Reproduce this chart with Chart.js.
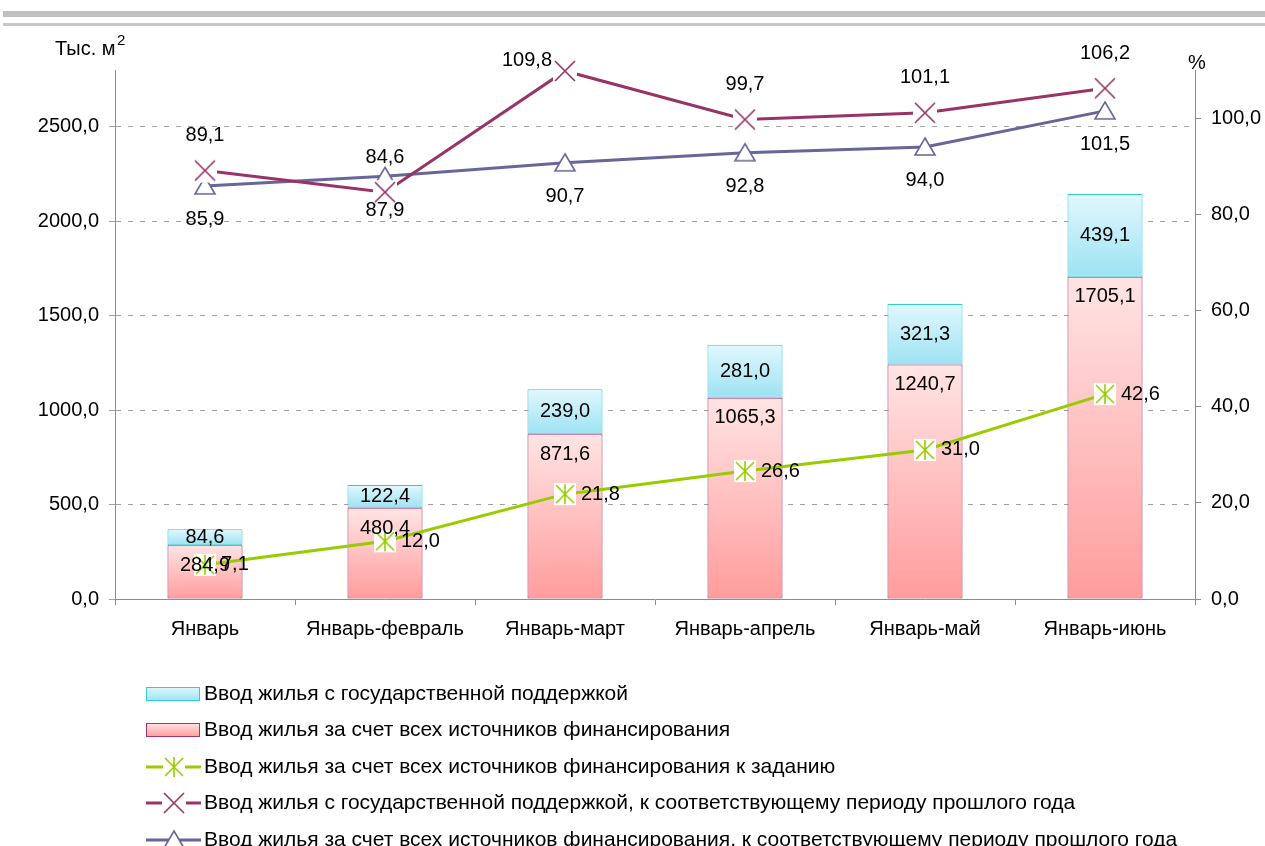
<!DOCTYPE html>
<html>
<head>
<meta charset="utf-8">
<script src="https://cdn.jsdelivr.net/npm/chart.js@4/dist/chart.umd.min.js"></script>
<style>
  html, body { margin: 0; padding: 0; background: #fff; }
  #wrap { width: 1265px; height: 846px; position: relative; }
</style>
</head>
<body>
<div id="wrap"><canvas id="housingChart"></canvas></div>
<script>
const periods = ['Январь', 'Январь-февраль', 'Январь-март', 'Январь-апрель', 'Январь-май', 'Январь-июнь'];
const allSources = [284.9, 480.4, 871.6, 1065.3, 1240.7, 1705.1];
const stateSupport = [84.6, 122.4, 239.0, 281.0, 321.3, 439.1];
const planPercent = [7.1, 12.0, 21.8, 26.6, 31.0, 42.6];
const supportYoY = [89.1, 84.6, 109.8, 99.7, 101.1, 106.2];
const allSourcesYoY = [85.9, 87.9, 90.7, 92.8, 94.0, 101.5];
const leftTicks = [0, 500, 1000, 1500, 2000, 2500];
const rightTicks = [0, 20, 40, 60, 80, 100];

const seriesNames = [
    'Ввод жилья с государственной поддержкой',
    'Ввод жилья за счет всех источников финансирования',
    'Ввод жилья за счет всех источников финансирования к заданию',
    'Ввод жилья с государственной поддержкой, к соответствующему периоду прошлого года',
    'Ввод жилья за счет всех источников финансирования, к соответствующему периоду прошлого года'
];

const FONT = '"Liberation Sans", Arial, sans-serif';
const GREEN = '#99cc00';
const MAROON = '#993366';
const PURPLE = '#666699';

function fmt(v) {
    return v.toFixed(1).replace('.', ',');
}

// marker images (white background like in Excel)
function makeMarker(kind) {
    const c = document.createElement('canvas');
    c.width = 26;
    c.height = 26;
    const g = c.getContext('2d');
    g.lineWidth = 1.6;
    if (kind === 'star') {
        g.fillStyle = '#fff';
        g.fillRect(2, 2, 22, 22);
        g.strokeStyle = GREEN;
        g.beginPath();
        g.moveTo(4, 4); g.lineTo(22, 22);
        g.moveTo(22, 4); g.lineTo(4, 22);
        g.moveTo(13, 3); g.lineTo(13, 23);
        g.stroke();
    } else if (kind === 'cross') {
        g.fillStyle = '#fff';
        g.fillRect(1, 1, 24, 24);
        g.strokeStyle = MAROON;
        g.beginPath();
        g.moveTo(3, 3); g.lineTo(23, 23);
        g.moveTo(23, 3); g.lineTo(3, 23);
        g.stroke();
    } else {
        g.fillStyle = '#fff';
        g.strokeStyle = PURPLE;
        g.beginPath();
        g.moveTo(13, 4); g.lineTo(23, 21); g.lineTo(3, 21);
        g.closePath();
        g.fill();
        g.stroke();
    }
    return c;
}
const starImg = makeMarker('star');
const crossImg = makeMarker('cross');
const triImg = makeMarker('tri');

function barGradient(context, lowVals, highVals, topColor, bottomColor) {
    const chart = context.chart;
    if (!chart.chartArea) return topColor;
    const y = chart.scales.y;
    const i = context.dataIndex;
    const lo = lowVals ? lowVals[i] : 0;
    const hi = lo + highVals[i];
    const g = chart.ctx.createLinearGradient(0, y.getPixelForValue(hi), 0, y.getPixelForValue(lo));
    g.addColorStop(0, topColor);
    g.addColorStop(1, bottomColor);
    return g;
}

const decorPlugin = {
    id: 'decor',
    beforeDraw(chart) {
        const c = chart.ctx;
        c.save();
        c.fillStyle = '#c0c0c0';
        c.fillRect(3, 11, 1262, 6);
        c.fillStyle = '#c8c8c8';
        c.fillRect(3, 23, 1262, 3);
        c.restore();
    },
    afterDraw(chart) {
        const c = chart.ctx;
        c.save();
        c.fillStyle = '#000';
        c.textBaseline = 'alphabetic';
        c.font = '20px ' + FONT;
        c.fillText('Тыс. м', 55, 55);
        c.font = '15px ' + FONT;
        c.fillText('2', 117, 45);
        c.font = '20px ' + FONT;
        c.fillText('%', 1188, 69);

        // legend
        const rows = [694, 730, 767, 803, 840];
        const x0 = 146, x1 = 200;
        rows.forEach((ry, k) => {
            if (k < 2) {
                const top = k === 0 ? '#dff7fd' : '#ffe4e4';
                const bot = k === 0 ? '#9ee3f3' : '#ff9c9c';
                const gr = c.createLinearGradient(0, ry - 7, 0, ry + 7);
                gr.addColorStop(0, top);
                gr.addColorStop(1, bot);
                c.fillStyle = gr;
                c.fillRect(x0, ry - 7, x1 - x0, 14);
                c.strokeStyle = k === 0 ? '#33cccc' : '#a8346c';
                c.lineWidth = 1;
                c.strokeRect(x0 + 0.5, ry - 6.5, x1 - x0 - 1, 13);
            } else {
                const col = [GREEN, MAROON, PURPLE][k - 2];
                const img = [starImg, crossImg, triImg][k - 2];
                c.strokeStyle = col;
                c.lineWidth = 3;
                c.beginPath();
                c.moveTo(x0, ry);
                c.lineTo(x1 + 1, ry);
                c.stroke();
                c.drawImage(img, 174 - 13, ry - 13);
            }
            c.fillStyle = '#000';
            c.font = '21px ' + FONT;
            c.textBaseline = 'middle';
            c.textAlign = 'left';
            c.fillText(seriesNames[k], 204, ry);
        });
        c.restore();
    }
};

const labelPlugin = {
    id: 'valueLabels',
    afterDatasetsDraw(chart) {
        const c = chart.ctx;
        c.save();
        c.font = '20px ' + FONT;
        c.fillStyle = '#000';
        c.textBaseline = 'middle';
        // bars
        chart.getDatasetMeta(0).data.forEach((el, i) => {
            c.textAlign = 'center';
            c.fillText(fmt(allSources[i]), el.x, el.y + 20);
        });
        chart.getDatasetMeta(1).data.forEach((el, i) => {
            c.textAlign = 'center';
            c.fillText(fmt(stateSupport[i]), el.x, (el.y + el.base) / 2);
        });
        // plan line
        chart.getDatasetMeta(2).data.forEach((el, i) => {
            c.textAlign = 'left';
            c.fillText(fmt(planPercent[i]), el.x + 16, el.y);
        });
        // support yoy, above
        chart.getDatasetMeta(3).data.forEach((el, i) => {
            if (el.y - 35 < 45) {
                c.textAlign = 'right';
                c.fillText(fmt(supportYoY[i]), el.x - 13, el.y - 10);
            } else {
                c.textAlign = 'center';
                c.fillText(fmt(supportYoY[i]), el.x, el.y - 35);
            }
        });
        // all sources yoy, below
        chart.getDatasetMeta(4).data.forEach((el, i) => {
            c.textAlign = 'center';
            c.fillText(fmt(allSourcesYoY[i]), el.x, el.y + 34);
        });
        c.restore();
    }
};

const ctx = document.getElementById('housingChart').getContext('2d');
const myChart = new Chart(ctx, {
    data: {
        labels: periods,
        datasets: [
            {
                type: 'bar',
                label: seriesNames[1],
                data: allSources,
                yAxisID: 'y',
                stack: 'housing',
                order: 2,
                backgroundColor: (c) => barGradient(c, null, allSources, '#ffe4e4', '#ff9c9c'),
                borderColor: '#a8346c',
                borderWidth: 1,
                borderSkipped: false
            },
            {
                type: 'bar',
                label: seriesNames[0],
                data: stateSupport,
                yAxisID: 'y',
                stack: 'housing',
                order: 3,
                backgroundColor: (c) => barGradient(c, allSources, stateSupport, '#e2f8fe', '#9ce2f3'),
                borderColor: '#33cccc',
                borderWidth: 1,
                borderSkipped: false
            },
            {
                type: 'line',
                label: seriesNames[2],
                data: planPercent,
                yAxisID: 'y1',
                order: 1,
                borderColor: GREEN,
                borderWidth: 3,
                pointStyle: starImg,
                pointRadius: 10,
                tension: 0,
                clip: false
            },
            {
                type: 'line',
                label: seriesNames[3],
                data: supportYoY,
                yAxisID: 'y1',
                order: 0,
                borderColor: MAROON,
                borderWidth: 3,
                pointStyle: crossImg,
                pointRadius: 10,
                tension: 0,
                clip: false
            },
            {
                type: 'line',
                label: seriesNames[4],
                data: allSourcesYoY,
                yAxisID: 'y1',
                order: 1,
                borderColor: PURPLE,
                borderWidth: 3,
                pointStyle: triImg,
                pointRadius: 10,
                tension: 0,
                clip: false
            }
        ]
    },
    options: {
        responsive: true,
        maintainAspectRatio: false,
        animation: false,
        events: [],
        layout: { padding: { top: 70, left: 0, right: 0, bottom: 0 } },
        datasets: {
            bar: { categoryPercentage: 1, barPercentage: 0.417 }
        },
        plugins: {
            legend: { display: false },
            tooltip: { enabled: false }
        },
        scales: {
            x: {
                stacked: true,
                offset: true,
                grid: { display: true, drawOnChartArea: false, offset: true, tickLength: 6, color: '#8c8c8c' },
                border: { color: '#8c8c8c' },
                ticks: { color: '#000', font: { size: 20, family: FONT }, padding: 12, maxRotation: 0 },
                afterFit(scale) { scale.height = 247; }
            },
            y: {
                stacked: true,
                position: 'left',
                min: 0,
                max: 2800,
                afterBuildTicks(scale) { scale.ticks = leftTicks.map(v => ({ value: v })); },
                grid: { color: '#a0a0a0', tickLength: 6 },
                border: { color: '#8c8c8c', dash: [5, 7] },
                ticks: { color: '#000', font: { size: 20, family: FONT }, padding: 10, callback: (v) => fmt(v) },
                afterFit(scale) { scale.width = 115; }
            },
            y1: {
                position: 'right',
                min: 0,
                max: 110,
                afterBuildTicks(scale) { scale.ticks = rightTicks.map(v => ({ value: v })); },
                grid: { drawOnChartArea: false, tickLength: 6, color: '#8c8c8c' },
                border: { color: '#8c8c8c' },
                ticks: { color: '#000', font: { size: 20, family: FONT }, padding: 10, callback: (v) => fmt(v) },
                afterFit(scale) { scale.width = 70; }
            }
        }
    },
    plugins: [decorPlugin, labelPlugin]
});
</script>
</body>
</html>
